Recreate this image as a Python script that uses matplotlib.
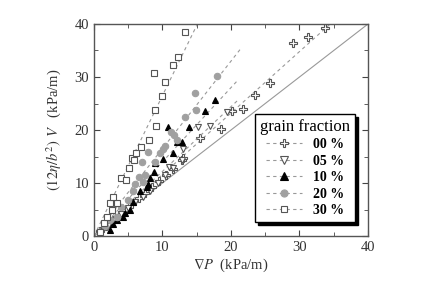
import numpy as np
import matplotlib
matplotlib.use("Agg")
import matplotlib.pyplot as plt
from matplotlib.ticker import MultipleLocator

plt.rcParams['font.family'] = ['Liberation Serif', 'DejaVu Serif']
plt.rcParams['mathtext.fontset'] = 'stix'

labels = ['00 %', '05 %', '10 %', '20 %', '30 %']

x00 = [0.9, 1.8, 2.8, 3.7, 4.6, 5.6, 6.6, 7.5, 8.5, 9.5, 10.5, 11.6, 12.8, 13.0, 15.5, 18.6, 20.1, 21.8, 23.5, 25.7, 29.1, 31.3, 33.7]
y00 = [0.9, 1.9, 3.0, 4.0, 5.0, 6.1, 7.1, 8.2, 9.3, 10.4, 11.5, 12.6, 14.3, 14.7, 18.4, 20.2, 23.5, 23.9, 26.6, 28.8, 36.4, 37.6, 39.2]

x05 = [1.2, 2.0, 3.0, 4.0, 5.0, 6.0, 7.2, 8.2, 9.3, 10.4, 10.9, 11.6, 12.8, 13.0, 15.2, 16.9, 19.4]
y05 = [1.0, 1.9, 3.0, 4.2, 5.3, 6.4, 7.4, 8.4, 10.0, 11.5, 13.1, 12.8, 14.3, 16.5, 20.6, 20.8, 23.4]

x10 = [2.3, 2.8, 3.3, 4.3, 4.5, 5.3, 5.7, 6.7, 7.7, 7.9, 8.2, 8.7, 8.9, 10.1, 11.6, 12.1, 12.8, 10.8, 13.9, 16.2, 17.7]
y10 = [1.1, 2.2, 3.0, 3.6, 4.3, 4.9, 6.5, 8.4, 9.3, 9.9, 10.9, 12.1, 13.7, 14.5, 15.6, 17.8, 17.8, 20.6, 20.6, 23.6, 25.7]

x20 = [1.6, 2.3, 3.3, 4.0, 5.0, 5.7, 6.0, 6.5, 7.0, 7.2, 7.4, 7.9, 8.9, 9.6, 10.1, 10.4, 11.3, 11.7, 12.1, 13.3, 14.9, 14.7, 17.9]
y20 = [1.8, 3.0, 3.6, 5.5, 6.8, 8.4, 9.9, 11.2, 14.0, 10.2, 11.5, 15.9, 14.0, 15.6, 16.5, 17.0, 19.7, 19.0, 18.1, 22.5, 23.8, 26.9, 30.2]

x30 = [0.9, 1.4, 1.9, 2.3, 2.6, 3.3, 2.8, 4.0, 4.6, 5.1, 5.5, 5.8, 6.1, 6.8, 8.0, 9.1, 8.9, 10.0, 10.4, 8.8, 11.6, 12.3, 13.3]
y30 = [0.8, 2.4, 3.6, 6.2, 4.9, 6.2, 7.4, 10.9, 10.6, 12.8, 14.7, 14.3, 15.6, 16.8, 18.1, 20.8, 23.8, 26.5, 29.0, 30.7, 32.3, 33.8, 38.5]

fit_slopes = [1.16, 1.22, 1.40, 1.65, 2.65]
fit_xmax = [35.0, 21.0, 21.0, 21.5, 15.0]

xs = [x00, x05, x10, x20, x30]
ys = [y00, y05, y10, y20, y30]

markers = ['P', 'v', '^', 'o', 's']
faces = ['white', 'white', 'black', '#a0a0a0', 'white']
edges = ['#555555', '#555555', 'black', '#a0a0a0', '#555555']
sizes = [5.5, 4.8, 4.8, 4.6, 4.5]

fig = plt.figure(figsize=(4.24, 2.84), dpi=100)
ax = fig.add_axes([0.2217, 0.169, 0.6462, 0.7465])

ax.plot([0, 40], [0, 40], color='#999999', lw=0.8)

handles = []
for i in range(5):
    xl = np.array([0, fit_xmax[i]])
    ax.plot(xl, fit_slopes[i] * xl, color='#999999', lw=0.8, ls=(0, (3, 3)))
    ax.plot(xs[i], ys[i], ls='none', marker=markers[i], ms=sizes[i],
            mfc=faces[i], mec=edges[i], mew=0.8)
    h, = ax.plot([], [], color='#999999', lw=0.8, ls=(0, (3, 3)),
                 marker=markers[i], ms=sizes[i] + 0.5, mfc=faces[i], mec=edges[i], mew=0.8)
    handles.append(h)

ax.set_xlim(0, 40)
ax.set_ylim(0, 40)
ax.xaxis.set_major_locator(MultipleLocator(10))
ax.xaxis.set_minor_locator(MultipleLocator(5))
ax.yaxis.set_major_locator(MultipleLocator(10))
ax.yaxis.set_minor_locator(MultipleLocator(5))
ax.tick_params(which='both', direction='in', top=True, right=True, colors='#444444',
               labelcolor='#333333', labelsize=10.5)
ax.tick_params(which='major', length=4)
ax.tick_params(which='minor', length=3)
for s in ax.spines.values():
    s.set_color('#555555')
    s.set_linewidth(1.0)

ax.set_xlabel(r'$\nabla P$  (kPa/m)', fontsize=10.5, color='#333333', labelpad=2)
ax.set_ylabel(r'$(12\eta/b^2)\ V$   (kPa/m)', fontsize=10.5, color='#333333', labelpad=8)

leg = ax.legend(handles, labels, title='grain fraction', loc='lower right',
                bbox_to_anchor=(0.952, 0.066), borderaxespad=0,
                prop={'weight': 'bold', 'size': 10}, title_fontsize=12,
                handlelength=2.6, labelspacing=0.25, fancybox=False,
                shadow={'color': 'black', 'alpha': 1}, framealpha=1,
                edgecolor='black', borderpad=0.35, handletextpad=0.8)
leg.get_frame().set_linewidth(1.0)

fig.savefig('out.png', dpi=100)
